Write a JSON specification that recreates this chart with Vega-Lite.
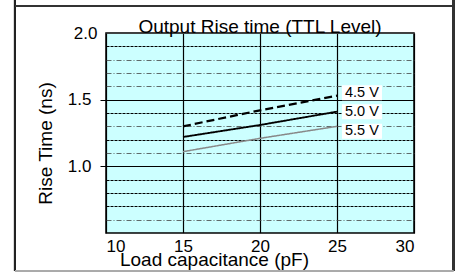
{
  "$schema": "https://vega.github.io/schema/vega-lite/v6.json",
  "width": 308,
  "height": 200,
  "autosize": {"type": "none"},
  "padding": {"left": 106, "top": 33, "right": 44, "bottom": 39},
  "background": "white",
  "config": {
    "font": "Liberation Sans",
    "view": {"fill": "#ccffff", "stroke": "#000", "strokeWidth": 1.5}
  },
  "title": {
    "text": "Output Rise time (TTL Level)",
    "fontSize": 19,
    "fontWeight": "normal",
    "color": "#000",
    "anchor": "middle",
    "frame": "group",
    "baseline": "alphabetic",
    "offset": -54
  },
  "data": {
    "values": [
      {"cap": 15, "rise": 1.30, "series": "4.5 V"},
      {"cap": 20, "rise": 1.42, "series": "4.5 V"},
      {"cap": 25, "rise": 1.53, "series": "4.5 V"},
      {"cap": 15, "rise": 1.22, "series": "5.0 V"},
      {"cap": 20, "rise": 1.31, "series": "5.0 V"},
      {"cap": 25, "rise": 1.41, "series": "5.0 V"},
      {"cap": 15, "rise": 1.11, "series": "5.5 V"},
      {"cap": 20, "rise": 1.21, "series": "5.5 V"},
      {"cap": 25, "rise": 1.30, "series": "5.5 V"}
    ]
  },
  "encoding": {
    "x": {
      "field": "cap",
      "type": "quantitative",
      "scale": {"domain": [10, 30], "nice": false, "zero": false},
      "axis": {
        "values": [10, 15, 20, 25, 30],
        "title": "Load capacitance (pF)",
        "titleFontSize": 19,
        "titleFontWeight": "normal",
        "titleColor": "#000",
        "titleX": 108,
        "titleY": 32,
        "titleAlign": "center",
        "titleBaseline": "alphabetic",
        "labelFontSize": 17,
        "labelColor": "#000",
        "labelPadding": 5,
        "tickSize": 0,
        "domain": false,
        "grid": true,
        "gridColor": "#000",
        "gridWidth": 1.2,
        "gridOpacity": 1
      }
    },
    "y": {
      "field": "rise",
      "type": "quantitative",
      "scale": {"domain": [0.5, 2.0], "nice": false, "zero": false},
      "axis": {
        "values": [0.5, 0.6, 0.7, 0.8, 0.9, 1.0, 1.1, 1.2, 1.3, 1.4, 1.5, 1.6, 1.7, 1.8, 1.9, 2.0],
        "labelExpr": "(datum.value == 1 || datum.value == 1.5 || datum.value == 2) ? format(datum.value, '.1f') : ''",
        "title": "Rise Time (ns)",
        "titleFontSize": 19,
        "titleFontWeight": "normal",
        "titleColor": "#000",
        "titleX": -61,
        "titleY": 110,
        "titleAlign": "center",
        "titleBaseline": "middle",
        "labelFontSize": 17,
        "labelColor": "#000",
        "labelPadding": 9,
        "labelBaseline": "middle",
        "domain": false,
        "tickColor": "#000",
        "tickSize": {"condition": {"test": "datum.value == 1 || datum.value == 1.5", "value": 6}, "value": 0},
        "grid": true,
        "gridOpacity": 1,
        "gridColor": {"condition": {"test": "datum.value == 1 || datum.value == 1.5 || indexof([1.9,1.4,1.2,0.9,0.8,0.7], datum.value) >= 0", "value": "#000"}, "value": "#444"},
        "gridWidth": {"condition": {"test": "datum.value == 1 || datum.value == 1.5 || indexof([1.9,1.4,1.2,0.9,0.8,0.7], datum.value) >= 0", "value": 1.2}, "value": 0.8},
        "gridDash": {"condition": [
          {"test": "datum.value == 1 || datum.value == 1.5 || datum.value == 0.5 || datum.value == 2", "value": []},
          {"test": "indexof([1.9,1.4,1.2,0.9,0.8,0.7], datum.value) >= 0", "value": [3, 1]}
        ], "value": [5, 2, 1, 2]}
      }
    }
  },
  "layer": [
    {
      "mark": {"type": "line", "clip": true},
      "encoding": {
        "detail": {"field": "series"},
        "color": {"field": "series", "type": "nominal", "scale": {"domain": ["4.5 V", "5.0 V", "5.5 V"], "range": ["#000000", "#000000", "#888888"]}, "legend": null},
        "strokeDash": {"field": "series", "type": "nominal", "scale": {"domain": ["4.5 V", "5.0 V", "5.5 V"], "range": [[8, 4], [1, 0], [1, 0]]}, "legend": null},
        "strokeWidth": {"field": "series", "type": "nominal", "scale": {"domain": ["4.5 V", "5.0 V", "5.5 V"], "range": [2.2, 1.5, 1.2]}, "legend": null}
      }
    },
    {
      "transform": [{"filter": "datum.cap == 25 && datum.series == '4.5 V'"}],
      "mark": {"type": "point", "shape": "M-1,-0.375H1V0.375H-1Z", "filled": true, "fill": "#ffffff", "stroke": null, "opacity": 1, "size": 1600, "xOffset": 25, "yOffset": -3},
      "encoding": {}
    },
    {
      "transform": [{"filter": "datum.cap == 25 && datum.series == '5.0 V'"}],
      "mark": {"type": "point", "shape": "M-1,-0.375H1V0.375H-1Z", "filled": true, "fill": "#ffffff", "stroke": null, "opacity": 1, "size": 1600, "xOffset": 25, "yOffset": 0},
      "encoding": {}
    },
    {
      "transform": [{"filter": "datum.cap == 25 && datum.series == '5.5 V'"}],
      "mark": {"type": "point", "shape": "M-1,-0.375H1V0.375H-1Z", "filled": true, "fill": "#ffffff", "stroke": null, "opacity": 1, "size": 1600, "xOffset": 25, "yOffset": 5},
      "encoding": {}
    },
    {
      "transform": [{"filter": "datum.cap == 25 && datum.series == '4.5 V'"}],
      "mark": {"type": "text", "align": "left", "baseline": "middle", "dx": 8, "dy": -3, "fontSize": 14.5, "color": "#000"},
      "encoding": {"text": {"field": "series"}}
    },
    {
      "transform": [{"filter": "datum.cap == 25 && datum.series == '5.0 V'"}],
      "mark": {"type": "text", "align": "left", "baseline": "middle", "dx": 8, "dy": 0, "fontSize": 14.5, "color": "#000"},
      "encoding": {"text": {"field": "series"}}
    },
    {
      "transform": [{"filter": "datum.cap == 25 && datum.series == '5.5 V'"}],
      "mark": {"type": "text", "align": "left", "baseline": "middle", "dx": 8, "dy": 5, "fontSize": 14.5, "color": "#000"},
      "encoding": {"text": {"field": "series"}}
    },
    {
      "mark": {"type": "rule", "color": "#222", "strokeWidth": 2},
      "encoding": {"x": {"datum": 4.09}, "y": {"datum": 2.25}, "y2": {"datum": 0.215}}
    },
    {
      "mark": {"type": "rule", "color": "#333", "strokeWidth": 2.5},
      "encoding": {"x": {"datum": 32.55}, "y": {"datum": 2.25}, "y2": {"datum": 0.215}}
    },
    {
      "mark": {"type": "rule", "color": "#333", "strokeWidth": 2},
      "encoding": {"x": {"datum": 4.09}, "x2": {"datum": 32.55}, "y": {"datum": 2.2025}}
    },
    {
      "mark": {"type": "rule", "color": "#aaaaaa", "strokeWidth": 1},
      "encoding": {"x": {"datum": 4.09}, "x2": {"datum": 32.55}, "y": {"datum": 0.215}}
    }
  ]
}
